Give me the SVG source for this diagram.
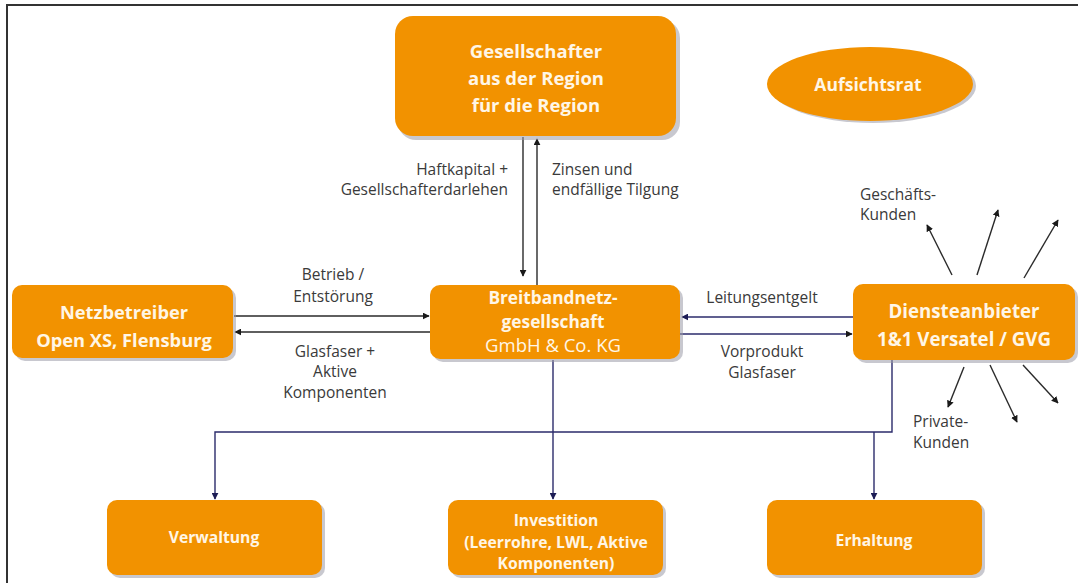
<svg xmlns="http://www.w3.org/2000/svg" width="1078" height="583" viewBox="0 0 1078 583">
<defs>
<style>
.box{fill:#f29200;}
.sh{fill:#9a9aa8;opacity:0.55;}
.t{font-family:"Open Sans","Liberation Sans",sans-serif;fill:#fff6e6;text-anchor:middle;}
.b{font-weight:bold;}
.lbl{font-family:"Open Sans","Liberation Sans",sans-serif;font-size:15.5px;fill:#3a3a3a;}
.k{stroke:#2a2a2a;stroke-width:1.4;fill:none;}
.n{stroke:#2b2b6b;stroke-width:1.4;fill:none;}
</style>
<marker id="ak" viewBox="0 0 10 10" refX="9" refY="5" markerWidth="7" markerHeight="7" orient="auto" markerUnits="userSpaceOnUse">
<path d="M0,0 L10,5 L0,10 z" fill="#1a1a1a"/>
</marker>
<marker id="an" viewBox="0 0 10 10" refX="9" refY="5" markerWidth="7" markerHeight="7" orient="auto" markerUnits="userSpaceOnUse">
<path d="M0,0 L10,5 L0,10 z" fill="#1c1c55"/>
</marker>
</defs>
<rect width="1078" height="583" fill="#ffffff"/>
<path d="M7,583 L7,5 L1078,5" stroke="#333" stroke-width="2" fill="none"/>

<g id="connectors">
<line class="k" x1="523" y1="137" x2="523" y2="276" marker-end="url(#ak)"/>
<line class="k" x1="537" y1="285" x2="537" y2="139" marker-end="url(#ak)"/>
<line class="k" x1="234" y1="316" x2="429" y2="316" marker-end="url(#ak)"/>
<line class="k" x1="430" y1="332" x2="235" y2="332" marker-end="url(#ak)"/>
<line class="n" x1="853" y1="317" x2="682" y2="317" marker-end="url(#an)"/>
<line class="n" x1="680" y1="334" x2="852" y2="334" marker-end="url(#ak)"/>
<line class="n" x1="553" y1="360" x2="553" y2="499" marker-end="url(#an)"/>
<polyline class="n" points="892,360 892,432 215,432 215,499" marker-end="url(#an)"/>
<line class="n" x1="874" y1="432" x2="874" y2="499" marker-end="url(#an)"/>
<line class="k" x1="952" y1="275" x2="927" y2="225" marker-end="url(#ak)"/>
<line class="k" x1="977" y1="275" x2="998" y2="210" marker-end="url(#ak)"/>
<line class="k" x1="1024" y1="278" x2="1058" y2="220" marker-end="url(#ak)"/>
<line class="k" x1="964" y1="367" x2="948" y2="407" marker-end="url(#ak)"/>
<line class="k" x1="990" y1="365" x2="1017" y2="422" marker-end="url(#ak)"/>
<line class="k" x1="1023" y1="365" x2="1058" y2="403" marker-end="url(#ak)"/>
<text class="lbl" x="508" y="175" text-anchor="end">Haftkapital +</text>
<text class="lbl" x="508" y="195" text-anchor="end">Gesellschafterdarlehen</text>
<text class="lbl" x="552" y="175">Zinsen und</text>
<text class="lbl" x="552" y="195">endfällige Tilgung</text>
<text class="lbl" x="333" y="280" text-anchor="middle">Betrieb /</text>
<text class="lbl" x="333" y="302" text-anchor="middle">Entstörung</text>
<text class="lbl" x="335" y="357" text-anchor="middle">Glasfaser +</text>
<text class="lbl" x="335" y="377" text-anchor="middle">Aktive</text>
<text class="lbl" x="335" y="398" text-anchor="middle">Komponenten</text>
<text class="lbl" x="762" y="303" text-anchor="middle">Leitungsentgelt</text>
<text class="lbl" x="762" y="357" text-anchor="middle">Vorprodukt</text>
<text class="lbl" x="762" y="378" text-anchor="middle">Glasfaser</text>
<text class="lbl" x="860" y="200">Geschäfts-</text>
<text class="lbl" x="860" y="220">Kunden</text>
<text class="lbl" x="913" y="427">Private-</text>
<text class="lbl" x="913" y="448">Kunden</text>
</g>

<g id="gesellschafter">
<rect class="sh" x="398" y="20" width="282" height="120" rx="18"/>
<rect class="box" x="395" y="16" width="281" height="120" rx="18"/>
<text class="t b" font-size="18.5" x="536" y="58">Gesellschafter</text>
<text class="t b" font-size="18.5" x="536" y="85">aus der Region</text>
<text class="t b" font-size="18.5" x="536" y="112">für die Region</text>
</g>

<g id="aufsichtsrat">
<ellipse class="sh" cx="873" cy="86" rx="103" ry="37"/>
<ellipse class="box" cx="870" cy="84" rx="103" ry="37"/>
<text class="t b" font-size="17.5" x="868" y="91">Aufsichtsrat</text>
</g>

<g id="netzbetreiber">
<rect class="sh" x="15" y="288" width="221" height="73" rx="10"/>
<rect class="box" x="12" y="285" width="221" height="73" rx="10"/>
<text class="t b" font-size="18.3" x="124" y="319">Netzbetreiber</text>
<text class="t b" font-size="18.3" x="124" y="347">Open XS, Flensburg</text>
</g>

<g id="breitband">
<rect class="sh" x="433" y="288" width="250" height="74" rx="10"/>
<rect class="box" x="430" y="285" width="250" height="74" rx="10"/>
<text class="t b" font-size="17.3" x="553" y="304">Breitbandnetz-</text>
<text class="t b" font-size="17.3" x="553" y="328">gesellschaft</text>
<text class="t" font-size="18.5" x="553" y="352">GmbH &amp; Co. KG</text>
</g>

<g id="diensteanbieter">
<rect class="sh" x="856" y="287" width="222" height="76" rx="10"/>
<rect class="box" x="853" y="284" width="222" height="76" rx="10"/>
<text class="t b" font-size="18.7" x="964" y="318">Diensteanbieter</text>
<text class="t b" font-size="18.7" x="964" y="346">1&amp;1 Versatel / GVG</text>
</g>

<g id="verwaltung">
<rect class="sh" x="110" y="503" width="215" height="75" rx="10"/>
<rect class="box" x="107" y="500" width="215" height="75" rx="10"/>
<text class="t b" font-size="15.7" x="214" y="543">Verwaltung</text>
</g>

<g id="investition">
<rect class="sh" x="451" y="503" width="215" height="75" rx="10"/>
<rect class="box" x="448" y="500" width="215" height="75" rx="10"/>
<text class="t b" font-size="15.7" x="556" y="526">Investition</text>
<text class="t b" font-size="15.7" x="556" y="548">(Leerrohre, LWL, Aktive</text>
<text class="t b" font-size="15.7" x="556" y="569">Komponenten)</text>
</g>

<g id="erhaltung">
<rect class="sh" x="770" y="503" width="215" height="75" rx="10"/>
<rect class="box" x="767" y="500" width="215" height="75" rx="10"/>
<text class="t b" font-size="15.7" x="874" y="546">Erhaltung</text>
</g>
</svg>
